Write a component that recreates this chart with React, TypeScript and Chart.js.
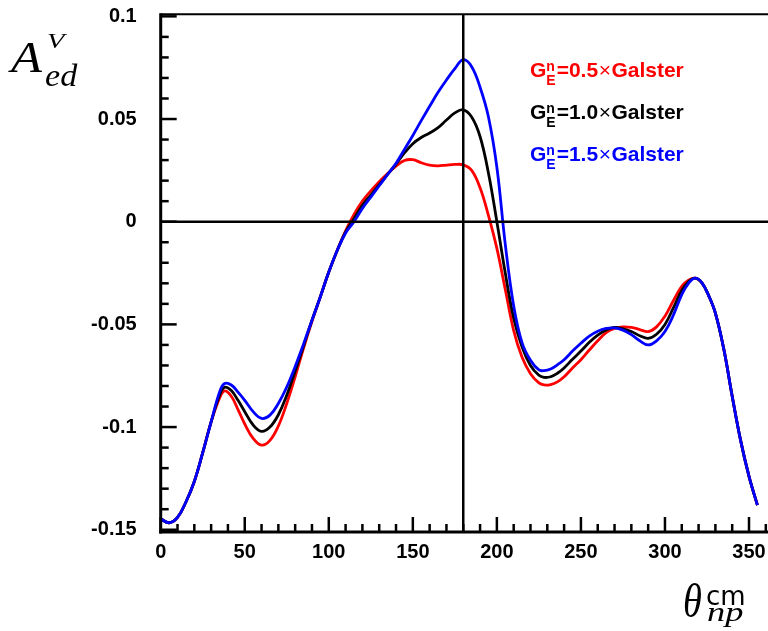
import React, { useEffect, useRef } from 'react';
import { Chart, registerables } from 'chart.js';

Chart.register(...registerables);

// ---- data ----
const THETA = [
  0, 5, 10, 15, 20, 25, 30, 35, 38, 42, 46, 50, 55, 60, 65, 70, 75, 80, 85, 90,
  95, 100, 105, 110, 115, 120, 125, 130, 135, 140, 145, 150, 155, 160, 165, 170, 175, 180,
  185, 190, 195, 200, 205, 210, 215, 220, 225, 228, 232, 236, 240, 245, 250, 255, 260,
  265, 270, 275, 280, 285, 290, 295, 300, 305, 310, 314, 318, 322, 326, 330, 335, 340,
  345, 350, 355,
];

// G_E^n = 0.5 x Galster (red)
const A_GALSTER_05 = [
  -0.1447, -0.1466, -0.144, -0.1365, -0.1265, -0.1125, -0.0975, -0.086, -0.0824, -0.085,
  -0.0915, -0.0985, -0.1055, -0.1088, -0.1065, -0.0995, -0.0885, -0.0755, -0.0615, -0.0485,
  -0.0365, -0.0245, -0.014, -0.0045, 0.0035, 0.01, 0.015, 0.0195, 0.0235, 0.027,
  0.0298, 0.0302, 0.0287, 0.0275, 0.0272, 0.0276, 0.0279, 0.0277,
  0.025, 0.0165, 0.003, -0.013, -0.033, -0.053, -0.066, -0.074, -0.0785, -0.0795, -0.0793,
  -0.078, -0.0755, -0.0712, -0.0672, -0.0625, -0.058, -0.054, -0.052, -0.0512, -0.0515,
  -0.0525, -0.0535, -0.0512, -0.046, -0.0385, -0.0315, -0.0285, -0.0275, -0.0298, -0.036,
  -0.0445, -0.062, -0.085, -0.1065, -0.124, -0.138,
];

// G_E^n = 1.0 x Galster (black)
const A_GALSTER_10 = [
  -0.1447, -0.1466, -0.144, -0.1365, -0.1265, -0.1125, -0.0975, -0.0845, -0.0806, -0.0822,
  -0.087, -0.0925, -0.099, -0.1021, -0.1, -0.094, -0.0845, -0.0728, -0.0605, -0.048,
  -0.0365, -0.0245, -0.014, -0.005, 0.0015, 0.008, 0.013, 0.018, 0.023, 0.028,
  0.0335, 0.038, 0.041, 0.0432, 0.0458, 0.0495, 0.053, 0.0545,
  0.051, 0.0415, 0.0236, 0.0, -0.025, -0.047, -0.061, -0.07, -0.0748, -0.0758, -0.0755,
  -0.0738, -0.0712, -0.067, -0.063, -0.0587, -0.0552, -0.0527, -0.0515, -0.0522, -0.0535,
  -0.0555, -0.0568, -0.0548, -0.05, -0.042, -0.0335, -0.0292, -0.0275, -0.0298, -0.036,
  -0.0445, -0.062, -0.085, -0.1065, -0.124, -0.138,
];

// G_E^n = 1.5 x Galster (blue)
const A_GALSTER_15 = [
  -0.1447, -0.1466, -0.144, -0.1365, -0.1265, -0.1125, -0.0975, -0.083, -0.0788, -0.0795,
  -0.083, -0.087, -0.0925, -0.0958, -0.0942, -0.0885, -0.0805, -0.0705, -0.0595, -0.048,
  -0.0365, -0.0245, -0.014, -0.0055, 0.0, 0.0065, 0.012, 0.0175, 0.023, 0.0285,
  0.0352, 0.042, 0.0492, 0.0562, 0.063, 0.069, 0.0745, 0.0789,
  0.0755, 0.0655, 0.051, 0.0265, -0.011, -0.041, -0.059, -0.0675, -0.0722, -0.0725, -0.0717,
  -0.0697, -0.0672, -0.063, -0.0592, -0.0557, -0.0533, -0.052, -0.0517, -0.0528, -0.055,
  -0.058, -0.06, -0.058, -0.0535, -0.0455, -0.0355, -0.03, -0.0275, -0.0298, -0.036,
  -0.0445, -0.062, -0.085, -0.1065, -0.124, -0.138,
];

const SERIES_VALUES = [A_GALSTER_05, A_GALSTER_10, A_GALSTER_15];
const SERIES_FACTORS = ['0.5', '1.0', '1.5'];
const SERIES_COLORS = ['#ff0000', '#000000', '#0000ff'];

const X_TICKS = [0, 50, 100, 150, 200, 250, 300, 350];
const Y_TICKS = [-0.15, -0.1, -0.05, 0, 0.05, 0.1];
const Y_TICK_LABELS = ['-0.15', '-0.1', '-0.05', '0', '0.05', '0.1'];
const X_MINOR_STEP = 10;
const Y_MINOR_STEP = 0.01;
const X_RANGE = [0, 361.3];
const Y_RANGE = [-0.1511, 0.101];
const REF_THETA = 180;

const TICK_FONT = { family: '"Liberation Sans", Arial, sans-serif', size: 20, weight: 'bold' as const };

function line(ctx: CanvasRenderingContext2D, x1: number, y1: number, x2: number, y2: number) {
  ctx.beginPath();
  ctx.moveTo(x1, y1);
  ctx.lineTo(x2, y2);
  ctx.stroke();
}

function scaledText(ctx: CanvasRenderingContext2D, text: string, x: number, y: number, font: string, sx: number) {
  ctx.save();
  ctx.font = font;
  ctx.translate(x, y);
  ctx.scale(sx, 1);
  ctx.fillText(text, 0, 0);
  ctx.restore();
}

const framePlugin = {
  id: 'rootFrame',
  afterDatasetsDraw(chart: any) {
    const { ctx, chartArea: a, scales } = chart;
    const xs = scales.x;
    const ys = scales.y;
    ctx.save();
    ctx.strokeStyle = '#000';
    ctx.lineCap = 'butt';

    // reference lines
    ctx.lineWidth = 2.5;
    const y0 = ys.getPixelForValue(0);
    line(ctx, a.left, y0, a.right, y0);
    const xr = xs.getPixelForValue(REF_THETA);
    line(ctx, xr, a.top, xr, a.bottom);

    // frame
    ctx.lineWidth = 2;
    line(ctx, a.left, a.top, a.right, a.top);
    ctx.lineWidth = 3;
    line(ctx, a.left, a.top - 1, a.left, a.bottom + 1.5);
    line(ctx, a.left - 1.5, a.bottom, a.right, a.bottom);

    // ticks (inward)
    ctx.lineWidth = 2.5;
    const yStart = Math.ceil(Y_RANGE[0] / Y_MINOR_STEP);
    const yEnd = Math.floor(Y_RANGE[1] / Y_MINOR_STEP);
    for (let k = yStart; k <= yEnd; k++) {
      const v = k * Y_MINOR_STEP;
      const major = k % 5 === 0;
      const py = ys.getPixelForValue(v);
      line(ctx, a.left, py, a.left + (major ? 16 : 8), py);
    }
    const xEnd = Math.floor(X_RANGE[1] / X_MINOR_STEP);
    for (let k = 0; k <= xEnd; k++) {
      const v = k * X_MINOR_STEP;
      const major = k % 5 === 0;
      const px = xs.getPixelForValue(v);
      line(ctx, px, a.bottom, px, a.bottom - (major ? 15 : 8));
    }
    ctx.restore();
  },
  afterDraw(chart: any) {
    const { ctx } = chart;
    ctx.save();
    ctx.fillStyle = '#000';
    ctx.textBaseline = 'alphabetic';
    ctx.textAlign = 'left';

    // y title: A^V_ed
    scaledText(ctx, 'A', 11, 72, 'italic 44px "Liberation Serif"', 1.15);
    scaledText(ctx, 'V', 47, 48, 'italic 22px "Liberation Serif"', 1.3);
    scaledText(ctx, 'ed', 45, 86, 'italic 31px "Liberation Serif"', 1.1);

    // x title: theta^cm_np
    scaledText(ctx, 'θ', 683, 617, 'italic 48px "Liberation Serif"', 0.8);
    scaledText(ctx, 'cm', 706, 605, '26px "DejaVu Sans"', 1.0);
    scaledText(ctx, 'np', 707, 621, 'italic 28px "Liberation Serif"', 1.3);

    // legend
    const baselines = [77, 119, 161];
    const big = 'bold 21px "Liberation Sans"';
    const small = 'bold 14px "Liberation Sans"';
    SERIES_FACTORS.forEach((f, i) => {
      const base = baselines[i];
      ctx.fillStyle = SERIES_COLORS[i];
      let x = 530;
      ctx.font = big;
      ctx.fillText('G', x, base);
      x += ctx.measureText('G').width;
      ctx.font = small;
      ctx.fillText('n', x, base - 6);
      ctx.fillText('E', x, base + 8);
      x += Math.max(ctx.measureText('n').width, ctx.measureText('E').width) + 1;
      ctx.font = big;
      const t1 = '=' + f;
      ctx.fillText(t1, x, base);
      x += ctx.measureText(t1).width + 0.5;
      ctx.font = '21px "Liberation Sans"';
      ctx.fillText('×', x, base);
      x += ctx.measureText('×').width + 0.5;
      ctx.font = big;
      ctx.fillText('Galster', x, base);
    });
    ctx.restore();
  },
};

export default function App() {
  const ref = useRef<HTMLCanvasElement | null>(null);

  useEffect(() => {
    if (!ref.current) return;
    const order = [3, 2, 1];
    const chart = new Chart(ref.current, {
      type: 'line',
      data: {
        datasets: SERIES_VALUES.map((vals, i) => ({
          label: SERIES_FACTORS[i],
          data: THETA.map((t, j) => ({ x: t, y: vals[j] })),
          borderColor: SERIES_COLORS[i],
          backgroundColor: SERIES_COLORS[i],
          borderWidth: 2.8,
          pointRadius: 0,
          fill: false,
          tension: 0.4,
          order: order[i],
        })),
      },
      options: {
        responsive: false,
        animation: false,
        devicePixelRatio: 1,
        layout: { padding: { top: 14.3, right: 0, bottom: 0, left: 0 } },
        plugins: {
          legend: { display: false },
          tooltip: { enabled: false },
          title: { display: false },
        },
        scales: {
          x: {
            type: 'linear',
            min: X_RANGE[0],
            max: X_RANGE[1],
            grid: { display: false, drawTicks: false },
            border: { display: false },
            afterBuildTicks: (s: any) => {
              s.ticks = X_TICKS.map((v) => ({ value: v }));
            },
            afterFit: (s: any) => {
              s.height = 99;
              s.paddingLeft = 0;
              s.paddingRight = 0;
            },
            ticks: {
              font: TICK_FONT,
              color: '#000',
              padding: 8.5,
              maxRotation: 0,
              autoSkip: false,
              callback: (v: any) => String(v),
            },
          },
          y: {
            type: 'linear',
            min: Y_RANGE[0],
            max: Y_RANGE[1],
            grid: { display: false, drawTicks: false },
            border: { display: false },
            afterBuildTicks: (s: any) => {
              s.ticks = Y_TICKS.map((v) => ({ value: v }));
            },
            afterFit: (s: any) => {
              s.width = 160.7;
              s.paddingTop = 0;
              s.paddingBottom = 0;
            },
            ticks: {
              font: TICK_FONT,
              color: '#000',
              padding: 24,
              autoSkip: false,
              callback: (_v: any, idx: number) => Y_TICK_LABELS[idx],
            },
          },
        },
      },
      plugins: [framePlugin],
    });
    return () => chart.destroy();
  }, []);

  return (
    <div style={{ position: 'absolute', left: 0, top: 0, width: 768, height: 631, background: '#fff' }}>
      <canvas ref={ref} width={768} height={631} style={{ display: 'block', width: 768, height: 631 }} />
    </div>
  );
}
